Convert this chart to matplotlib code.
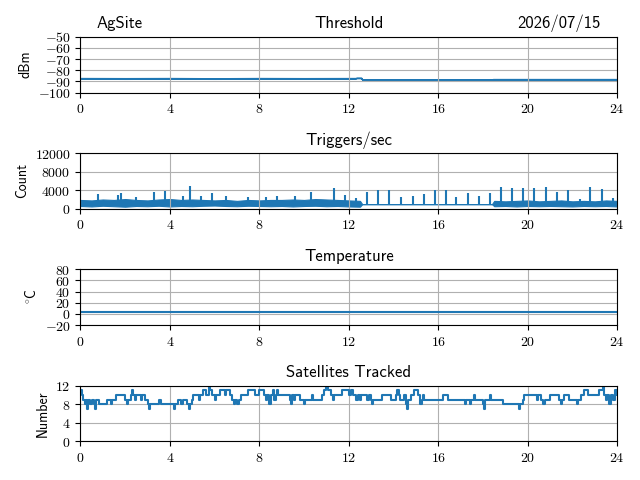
import matplotlib
matplotlib.use("Agg")
import matplotlib.pyplot as plt
from matplotlib.ticker import FuncFormatter

plt.rcParams["font.family"] = ["cmss10", "DejaVu Sans"]
plt.rcParams["mathtext.fontset"] = "cm"
plt.rcParams["axes.unicode_minus"] = False

station = "AgSite"
date_label = "2026/07/15"
hour_ticks = [0, 4, 8, 12, 16, 20, 24]

# threshold (dBm): band per time point
thresh_hours = [0, 2, 4, 6, 8, 10, 12.3, 12.35, 12.55, 12.6, 18.4, 18.45, 21, 24]
thresh_low = [-87.6, -87.7, -87.6, -87.7, -87.6, -87.6, -87.6, -87.1, -87.1, -88.4, -88.4, -88.8, -88.8, -88.8]
thresh_high = [-87.0, -87.1, -87.0, -87.2, -87.0, -87.1, -87.0, -86.6, -86.6, -88.2, -88.2, -87.9, -87.9, -87.9]

# triggers per second: band envelope + spikes
trig_hours = [0, 0.5, 1, 1.5, 2, 2.5, 3, 3.5, 4, 4.5, 5, 5.5, 6, 6.5, 7, 7.5, 8, 8.5,
              9, 9.5, 10, 10.5, 11, 11.5, 12, 12.5, 12.6, 18.4, 18.5, 19, 19.5, 20,
              20.5, 21, 21.5, 22, 22.5, 23, 23.5, 24]
trig_low = [600, 500, 650, 550, 450, 600, 550, 650, 500, 600, 550, 650, 700, 600, 550, 650, 600, 550,
            600, 500, 600, 650, 550, 600, 500, 450, 1000, 1000, 550, 600, 500, 600,
            550, 600, 550, 500, 600, 550, 600, 500]
trig_high = [1900, 1800, 2000, 1900, 2100, 1900, 1800, 2000, 2100, 1900, 2000, 1900, 1800, 1900, 1700, 1900, 1800, 1900,
             1900, 2000, 1900, 2100, 2000, 1900, 1800, 1700, 1000, 1000, 1700, 1600, 1700, 1800,
             1600, 1700, 1800, 1600, 1700, 1600, 1800, 1700]
spike_hours = [0.8, 1.7, 1.8, 2.5, 3.3, 3.8, 4.6, 4.9, 5.4, 5.9, 6.5, 7.5, 8.3, 8.8, 9.6, 10.3,
               11.33, 11.82, 12.3, 12.82, 13.32, 13.81, 14.33, 14.85, 15.34, 15.84, 16.33, 16.81,
               17.32, 17.82, 18.32, 18.81, 19.31, 19.8, 20.3, 20.81, 21.31, 21.8, 22.32, 22.8,
               23.3, 23.8]
spike_counts = [3200, 3000, 3300, 2600, 3700, 3900, 2700, 5000, 2800, 3400, 2800, 2500, 2600, 2800, 2700, 3700,
                4540, 2930, 2300, 3620, 4040, 4040, 2570, 2790, 3140, 3970, 4040, 2440,
                3350, 2650, 3480, 4670, 4460, 4460, 4530, 4740, 3620, 4110, 2200, 4740,
                4320, 2300]

# temperature (deg C)
temp_hours = [0, 24]
temp_values = [3.8, 3.8]

# satellites tracked: change points
sat_hours = [0.0, 0.05, 0.1, 0.2, 0.25, 0.3, 0.35, 0.45, 0.5, 0.6, 0.65, 0.7, 0.85, 1.2, 1.35, 1.4, 1.6,
             2.0, 2.1, 2.15, 2.25, 2.3, 2.35, 2.45, 2.5, 2.7, 2.75, 2.9, 3.0, 3.05, 3.1, 3.5, 3.6,
             4.2, 4.25, 4.35, 4.5, 4.6, 4.75, 4.85, 4.9, 5.0, 5.05, 5.3, 5.35, 5.5, 5.6, 5.75, 5.8,
             5.9, 6.0, 6.05, 6.25, 6.45, 6.5, 6.7, 6.8, 6.85, 6.9, 7.0, 7.1, 7.2, 7.5, 7.8, 8.0,
             8.2, 8.3, 8.35, 8.45, 8.5, 8.6, 8.65, 8.75, 8.8, 8.85, 9.35, 9.4, 9.45, 9.55, 9.6,
             9.8, 10.0, 10.05, 10.35, 10.4, 10.8, 10.9, 11.0, 11.05, 11.2, 11.3, 11.35, 11.7, 12.0,
             12.1, 12.2, 12.3, 12.4, 12.5, 12.55, 12.8, 12.9, 13.0, 13.05, 13.1, 13.5, 13.9, 14.1,
             14.15, 14.25, 14.3, 14.45, 14.55, 14.6, 14.65, 14.8, 14.9, 15.1, 15.2, 15.25, 15.3,
             15.35, 16.2, 16.45, 17.2, 17.25, 17.4, 17.45, 17.6, 17.65, 18.0, 18.05, 18.1, 18.3,
             18.35, 18.9, 19.6, 19.65, 19.8, 19.85, 20.4, 20.45, 20.6, 20.7, 20.75, 21.0, 21.4,
             21.5, 21.55, 21.6, 21.85, 22.2, 22.25, 22.4, 22.5, 22.7, 23.2, 23.35, 23.4, 23.5,
             23.55, 23.65, 23.7, 23.8, 23.9, 24.0]
sat_counts = [11, 10, 9, 8, 9, 7, 9, 8, 9, 8, 7, 9, 8, 9, 8, 9, 10,
              9, 8, 9, 10, 11, 10, 9, 10, 9, 10, 9, 8, 7, 8, 9, 8,
              7, 8, 9, 8, 9, 8, 7, 8, 9, 10, 9, 10, 11, 10, 12, 11,
              10, 9, 10, 11, 10, 11, 10, 9, 8, 9, 8, 9, 10, 11, 10, 11,
              10, 9, 10, 8, 10, 11, 9, 10, 11, 10, 9, 8, 10, 9, 10,
              9, 8, 9, 10, 9, 10, 11, 12, 11, 10, 9, 10, 11, 10,
              11, 10, 9, 10, 9, 10, 9, 10, 9, 8, 9, 10, 9, 10,
              11, 10, 9, 10, 8, 7, 9, 10, 11, 10, 8, 9, 10,
              9, 10, 9, 8, 9, 8, 9, 10, 9, 8, 7, 9, 10,
              9, 8, 7, 8, 9, 10, 9, 10, 9, 8, 9, 10, 9,
              8, 9, 10, 9, 8, 9, 10, 11, 10, 11, 12, 10, 9,
              10, 8, 10, 9, 11, 10]

blue = "#1f77b4"
tick_fmt = FuncFormatter(lambda v, pos: "$%g$" % v)

fig, axes = plt.subplots(4, 1, figsize=(6.4, 4.8))
ax1, ax2, ax3, ax4 = axes

ax1.fill_between(thresh_hours, thresh_low, thresh_high, color=blue, lw=1.0)
ax1.set_ylim(-100, -50)
ax1.set_yticks([-100, -90, -80, -70, -60, -50])
ax1.set_ylabel("dBm")
ax1.set_title("Threshold")
ax1.annotate(station, xy=(0.03, 1.0), xycoords="axes fraction", xytext=(0, 6),
             textcoords="offset points", fontsize=12, ha="left", va="baseline")
ax1.annotate(date_label, xy=(0.97, 1.0), xycoords="axes fraction", xytext=(0, 6),
             textcoords="offset points", fontsize=12, ha="right", va="baseline")

ax2.fill_between(trig_hours, trig_low, trig_high, color=blue, lw=0.8)
ax2.vlines(spike_hours, 1000, spike_counts, color=blue, lw=1.5)
ax2.set_ylim(0, 12000)
ax2.set_yticks([0, 4000, 8000, 12000])
ax2.set_ylabel("Count")
ax2.set_title("Triggers/sec")

ax3.plot(temp_hours, temp_values, color=blue, lw=1.5)
ax3.set_ylim(-20, 80)
ax3.set_yticks([-20, 0, 20, 40, 60, 80])
ax3.set_ylabel(r"${}^\circ\!\mathsf{C}$")
ax3.set_title("Temperature")

ax4.step(sat_hours, sat_counts, where="post", color=blue, lw=1.5)
ax4.set_ylim(0, 12)
ax4.set_yticks([0, 4, 8, 12])
ax4.set_ylabel("Number")
ax4.set_title("Satellites Tracked")

for ax in axes:
    ax.set_xlim(0, 24)
    ax.set_xticks(hour_ticks)
    ax.xaxis.set_major_formatter(tick_fmt)
    ax.yaxis.set_major_formatter(tick_fmt)
    ax.grid(True)

fig.tight_layout()
fig.savefig("out.png", dpi=100)
